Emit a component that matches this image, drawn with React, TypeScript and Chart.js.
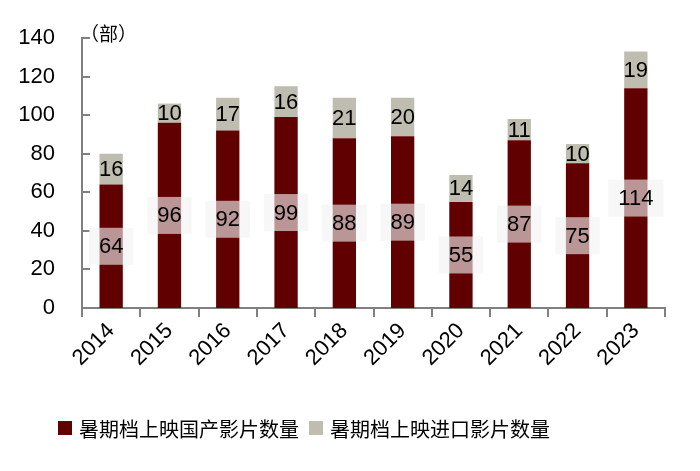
import React, { useEffect, useRef } from "react";
import { Chart, registerables } from "chart.js";

Chart.register(...registerables);

const categories = ["2014", "2015", "2016", "2017", "2018", "2019", "2020", "2021", "2022", "2023"];
const domestic = [64, 96, 92, 99, 88, 89, 55, 87, 75, 114];
const imported = [16, 10, 17, 16, 21, 20, 14, 11, 10, 19];
const seriesNames = ["暑期档上映国产影片数量", "暑期档上映进口影片数量"];
const yTicks = [0, 20, 40, 60, 80, 100, 120, 140];
const unitLabel = "（部）";

const RED = "#600000";
const GRAY = "#BFBDB0";
const AXIS = "#808080";
const NUM_FONT = "'Liberation Sans', Arial, sans-serif";
const CJK_FONT = "'Noto Sans CJK SC', 'Liberation Sans', sans-serif";

const labelPlugin = {
  id: "labels",
  afterDatasetsDraw(chart: any) {
    const ctx = chart.ctx;
    const y = chart.scales.y;
    const area = chart.chartArea;
    ctx.save();
    ctx.strokeStyle = AXIS;
    ctx.lineWidth = 2;
    yTicks.forEach((v) => {
      const py = Math.round(y.getPixelForValue(v));
      ctx.beginPath();
      ctx.moveTo(area.left, py);
      ctx.lineTo(area.left + 8, py);
      ctx.stroke();
    });
    ctx.font = `19px ${CJK_FONT}`;
    ctx.fillStyle = "#000";
    ctx.textAlign = "left";
    ctx.textBaseline = "middle";
    ctx.fillText(unitLabel, area.left - 2, area.top - 4);

    ctx.font = `22px ${NUM_FONT}`;
    ctx.textAlign = "center";
    const m0 = chart.getDatasetMeta(0);
    const m1 = chart.getDatasetMeta(1);
    m0.data.forEach((bar: any, i: number) => {
      const cx = bar.x;
      const cy = (bar.y + bar.base) / 2;
      const txt = String(domestic[i]);
      const w = ctx.measureText(txt).width + 20;
      const h = 37;
      ctx.fillStyle = "rgba(242,242,242,0.62)";
      ctx.fillRect(cx - w / 2, cy - h / 2, w, h);
      ctx.fillStyle = "#000";
      ctx.fillText(txt, cx, cy + 1);
    });
    m1.data.forEach((bar: any, i: number) => {
      const cx = bar.x;
      const cy = (bar.y + bar.base) / 2;
      ctx.fillStyle = "#000";
      ctx.fillText(String(imported[i]), cx, cy + 1);
    });

    // legend
    const colors = [RED, GRAY];
    let lx = 58;
    const ly = 428;
    ctx.font = `20px ${CJK_FONT}`;
    ctx.textAlign = "left";
    seriesNames.forEach((name, i) => {
      ctx.fillStyle = colors[i];
      ctx.fillRect(lx, ly - 7, 14, 14);
      lx += 21;
      ctx.fillStyle = "#000";
      ctx.fillText(name, lx, ly + 1);
      lx += ctx.measureText(name).width + 10;
    });
    ctx.restore();
  },
};

export default function App() {
  const ref = useRef<HTMLCanvasElement>(null);
  useEffect(() => {
    if (!ref.current) return;
    const chart = new Chart(ref.current, {
      type: "bar",
      data: {
        labels: categories,
        datasets: [
          { label: seriesNames[0], data: domestic, backgroundColor: RED, categoryPercentage: 1, barPercentage: 0.4 },
          { label: seriesNames[1], data: imported, backgroundColor: GRAY, categoryPercentage: 1, barPercentage: 0.4 },
        ],
      },
      options: {
        animation: false,
        responsive: false,
        devicePixelRatio: 1,
        layout: { padding: { left: 0, right: 35, top: 38, bottom: 64 } },
        plugins: {
          tooltip: { enabled: false },
          legend: { display: false },
        },
        scales: {
          x: {
            stacked: true,
            afterFit: (s: any) => { s.height = 99; },
            grid: { display: true, drawOnChartArea: false, offset: true, tickLength: 9, color: AXIS, lineWidth: 2 },
            border: { display: true, color: AXIS, width: 2 },
            ticks: {
              font: { size: 22, family: NUM_FONT },
              color: "#000",
              maxRotation: 45,
              minRotation: 45,
              padding: 1,
            },
          },
          y: {
            stacked: true,
            min: 0,
            max: 140,
            afterFit: (s: any) => { s.width = 82; },
            grid: { display: false },
            border: { display: true, color: AXIS, width: 2 },
            ticks: {
              stepSize: 20,
              font: { size: 22, family: NUM_FONT },
              color: "#000",
              padding: 19,
            },
          },
        },
      },
      plugins: [labelPlugin],
    } as any);
    return () => chart.destroy();
  }, []);
  return (
    <div style={{ position: "fixed", left: 0, top: 0, width: 700, height: 471, background: "#fff" }}>
      <canvas ref={ref} width={700} height={471} style={{ width: 700, height: 471 }} />
    </div>
  );
}
